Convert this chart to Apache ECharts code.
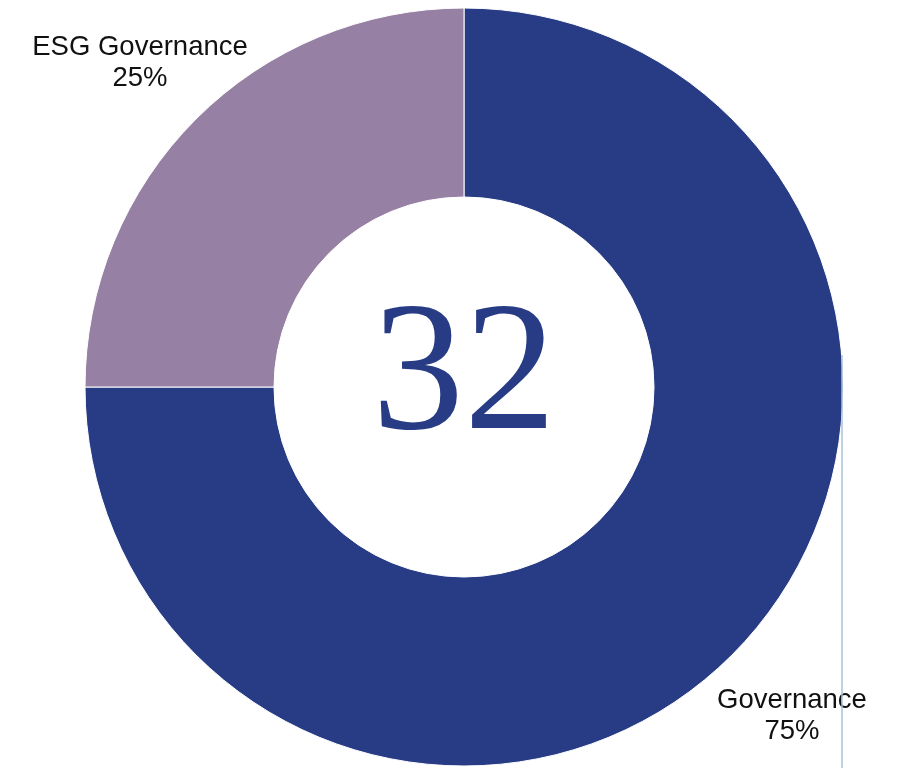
<!DOCTYPE html>
<html>
<head>
<meta charset="utf-8">
<script src="https://cdn.jsdelivr.net/npm/echarts@6/dist/echarts.min.js"></script>
<style>html,body{margin:0;padding:0;background:#fff}#c{width:911px;height:768px}</style>
</head>
<body>
<div id="c"></div>
<script>
const categories = ['Governance', 'ESG Governance'];
const values = [75, 25];
const colors = ['#283B85', '#9680A3'];
const centerText = '32';

const chart = echarts.init(document.getElementById('c'), null, {renderer: 'canvas'});
const labelPos = {
  'Governance': [792, 716],
  'ESG Governance': [140, 63]
};
chart.setOption({
  animation: false,
  backgroundColor: '#ffffff',
  series: [{
    type: 'pie',
    center: [464, 387],
    radius: [190, 379],
    startAngle: 90,
    clockwise: true,
    silent: true,
    data: categories.map((c, i) => ({name: c, value: values[i], itemStyle: {color: colors[i]}})),
    itemStyle: {borderColor: '#ffffff', borderWidth: 1},
    label: {
      show: true,
      position: 'outside',
      formatter: '{b}\n{d}%',
      fontFamily: 'Liberation Sans, Arial, sans-serif',
      fontSize: 27.5,
      lineHeight: 31,
      color: '#111111',
      align: 'center',
      overflow: 'none',
      width: 400
    },
    labelLine: {show: false},
    labelLayout: function (p) {
      const name = categories[p.dataIndex];
      const pos = labelPos[name];
      return {x: pos[0], y: pos[1], align: 'center', verticalAlign: 'middle'};
    }
  }],
  graphic: [
    {
      type: 'line',
      shape: {x1: 842, y1: 355, x2: 842, y2: 768},
      style: {stroke: '#A9C3D8', lineWidth: 1.5},
      z: 10
    },
    {
      type: 'text',
      x: 464,
      y: 380,
      style: {
        text: centerText,
        fill: '#283B85',
        font: '184px "Liberation Serif", "DejaVu Serif", serif',
        textAlign: 'center',
        textVerticalAlign: 'middle'
      },
      z: 10
    }
  ]
});
</script>
</body>
</html>
